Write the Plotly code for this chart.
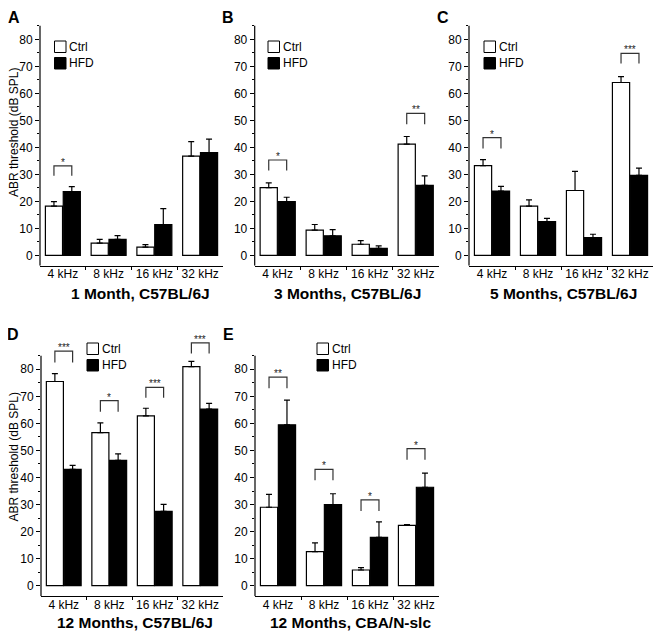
import plotly.graph_objects as go

# The page body keeps its default 8px margin, so the figure is drawn 8px smaller
# and all layout positions below (measured in window pixels) are shifted by 8px.
WIN_W, WIN_H = 662, 634
PAGE_MARGIN = 8
W, H = WIN_W - PAGE_MARGIN, WIN_H - PAGE_MARGIN

freqs = ["4 kHz", "8 kHz", "16 kHz", "32 kHz"]
groups = ["Ctrl", "HFD"]

# Panel A: 1 Month, C57BL/6J
a_ctrl = [18.2, 4.5, 3.0, 36.7]
a_ctrl_err = [1.7, 1.4, 0.95, 5.4]
a_hfd = [23.6, 5.9, 11.4, 38.0]
a_hfd_err = [1.8, 1.4, 5.9, 5.0]
a_sig = [(0, 33.1, 29.5, "*")]

# Panel B: 3 Months, C57BL/6J
b_ctrl = [25.1, 9.3, 4.1, 41.2]
b_ctrl_err = [1.7, 2.1, 1.3, 2.8]
b_hfd = [19.9, 7.2, 2.6, 25.9]
b_hfd_err = [1.6, 2.3, 0.9, 3.5]
b_sig = [(0, 35.3, 31.4, "*"), (3, 52.6, 48.5, "**")]

# Panel C: 5 Months, C57BL/6J
c_ctrl = [33.2, 18.2, 24.0, 64.0]
c_ctrl_err = [2.2, 2.3, 7.1, 2.2]
c_hfd = [23.8, 12.5, 6.6, 29.6]
c_hfd_err = [1.7, 1.2, 1.2, 2.7]
c_sig = [(0, 43.6, 39.6, "*"), (3, 74.8, 71.0, "***")]

# Panel D: 12 Months, C57BL/6J
d_ctrl = [75.5, 56.6, 62.8, 81.0]
d_ctrl_err = [2.9, 3.6, 2.8, 1.9]
d_hfd = [43.0, 46.3, 27.5, 65.3]
d_hfd_err = [1.5, 2.4, 2.6, 2.1]
d_sig = [(0, 86.7, 82.5, "***"), (1, 68.4, 64.3, "*"), (2, 73.3, 69.5, "***"), (3, 89.8, 85.8, "***")]

# Panel E: 12 Months, CBA/N-slc
e_ctrl = [29.0, 12.6, 5.8, 22.3]
e_ctrl_err = [4.8, 3.2, 0.9, 0.3]
e_hfd = [59.5, 30.0, 17.9, 36.4]
e_hfd_err = [9.1, 4.0, 5.7, 5.2]
e_sig = [(0, 77.1, 73.0, "**"), (1, 43.0, 39.0, "*"), (2, 31.7, 27.6, "*"), (3, 50.7, 46.6, "*")]

yticks = [0, 10, 20, 30, 40, 50, 60, 70, 80]
yminor = [5, 15, 25, 35, 45, 55, 65, 75, 85]
y_title = "ABR threshold (dB SPL)"

FONT = "Liberation Sans, Arial, Helvetica, sans-serif"
Y_MIN, Y_MAX, AXIS_TOP = -3.9, 91.0, 85.0
BARGAP, BARGROUPGAP = 0.22, 0.04
OFF = (1 - BARGAP) / 4


def px(x):
    return min(1.0, max(0.0, (x - PAGE_MARGIN) / W))


def py(y):
    return min(1.0, max(0.0, 1 - (y - PAGE_MARGIN) / H))


panels = [
    dict(letter="A", title="1 Month, C57BL/6J", ctrl=a_ctrl, ce=a_ctrl_err, hfd=a_hfd, he=a_hfd_err, sig=a_sig,
         x0=40, x1=223, zero=255.3, scale=2.70, letter_xy=(14, 17), title_xy=(140.5, 293.5),
         leg=(54.5, 41), ytitle=(14, 133)),
    dict(letter="B", title="3 Months, C57BL/6J", ctrl=b_ctrl, ce=b_ctrl_err, hfd=b_hfd, he=b_hfd_err, sig=b_sig,
         x0=254.7, x1=438.7, zero=255.3, scale=2.70, letter_xy=(228, 17), title_xy=(347, 293.5),
         leg=(268, 41), ytitle=None),
    dict(letter="C", title="5 Months, C57BL/6J", ctrl=c_ctrl, ce=c_ctrl_err, hfd=c_hfd, he=c_hfd_err, sig=c_sig,
         x0=469, x1=653, zero=255.3, scale=2.70, letter_xy=(443, 17), title_xy=(563, 293.5),
         leg=(484, 41), ytitle=None),
    dict(letter="D", title="12 Months, C57BL/6J", ctrl=d_ctrl, ce=d_ctrl_err, hfd=d_hfd, he=d_hfd_err, sig=d_sig,
         x0=41, x1=223, zero=585.7, scale=2.705, letter_xy=(13.5, 334), title_xy=(135, 622.5),
         leg=(87, 343), ytitle=(13.5, 457)),
    dict(letter="E", title="12 Months, CBA/N-slc", ctrl=e_ctrl, ce=e_ctrl_err, hfd=e_hfd, he=e_hfd_err, sig=e_sig,
         x0=255, x1=439, zero=585.7, scale=2.705, letter_xy=(228, 334), title_xy=(350, 622.5),
         leg=(317, 343), ytitle=None),
]

fig = go.Figure()
shapes = []
annotations = []
layout_axes = {}

for i, p in enumerate(panels):
    n = "" if i == 0 else str(i + 1)
    xa, ya = "x" + n, "y" + n
    err_style = dict(type="data", symmetric=False, color="black", thickness=1.2, width=3)
    fig.add_trace(go.Bar(
        x=[0, 1, 2, 3], y=p["ctrl"], name=groups[0], xaxis=xa, yaxis=ya, showlegend=False,
        marker=dict(color="white", line=dict(color="black", width=1.2)),
        error_y=dict(array=p["ce"], arrayminus=[0] * 4, **err_style)))
    fig.add_trace(go.Bar(
        x=[0, 1, 2, 3], y=p["hfd"], name=groups[1], xaxis=xa, yaxis=ya, showlegend=False,
        marker=dict(color="black", line=dict(color="black", width=1.2)),
        error_y=dict(array=p["he"], arrayminus=[0] * 4, **err_style)))

    bottom_px = p["zero"] - Y_MIN * p["scale"]
    top_px = p["zero"] - Y_MAX * p["scale"]
    layout_axes["xaxis" + n] = dict(
        domain=[px(p["x0"]), px(p["x1"])], anchor=ya, range=[-0.5, 3.5],
        tickvals=[0, 1, 2, 3], ticktext=freqs, ticks="", showgrid=False, zeroline=False,
        showline=True, linecolor="black", linewidth=1.2, ticklabelstandoff=-3,
        tickfont=dict(family=FONT, size=12, color="black"),
        minor=dict(tickvals=[0.5, 1.5, 2.5], ticks="outside", ticklen=3, tickcolor="black", tickwidth=1),
        fixedrange=True)
    layout_axes["yaxis" + n] = dict(
        domain=[py(bottom_px), py(top_px)], anchor=xa, range=[Y_MIN, Y_MAX],
        tickvals=yticks, ticks="outside", ticklen=4, tickcolor="black", tickwidth=1,
        minor=dict(tickvals=yminor, ticks="outside", ticklen=2, tickcolor="black", tickwidth=1),
        showgrid=False, zeroline=False, showline=False,
        tickfont=dict(family=FONT, size=12, color="black"), fixedrange=True)

    # y axis line (stops at 85, brackets may rise above it)
    shapes.append(dict(type="line", xref=xa + " domain", yref=ya, x0=0, x1=0, y0=Y_MIN, y1=AXIS_TOP,
                       line=dict(color="black", width=1.2)))

    # significance brackets
    for idx, top, bot, lab in p["sig"]:
        xl, xr = idx - OFF, idx + OFF
        shapes.append(dict(type="path", xref=xa, yref=ya,
                           path=f"M{xl},{bot} L{xl},{top} L{xr},{top} L{xr},{bot}",
                           line=dict(color="#333333", width=1.2)))
        annotations.append(dict(x=idx, y=top, xref=xa, yref=ya, text=lab, showarrow=False,
                                yanchor="bottom", yshift=-4,
                                font=dict(family=FONT, size=10, color="#222222")))

    # legend
    lx, ly = p["leg"]
    for k, (fill, lab) in enumerate([("white", groups[0]), ("black", groups[1])]):
        y0 = ly + k * 16.5
        shapes.append(dict(type="rect", xref="paper", yref="paper",
                           x0=px(lx), x1=px(lx + 11.5), y0=py(y0 + 11.5), y1=py(y0),
                           fillcolor=fill, line=dict(color="black", width=1)))
        annotations.append(dict(x=px(lx + 12.5), y=py(y0 + 5.8), xref="paper", yref="paper",
                                text=lab, showarrow=False, xanchor="left", yanchor="middle",
                                font=dict(family=FONT, size=12, color="black")))

    # panel letter
    annotations.append(dict(x=px(p["letter_xy"][0]), y=py(p["letter_xy"][1]), xref="paper", yref="paper",
                            text=f"<b>{p['letter']}</b>", showarrow=False, xanchor="center", yanchor="middle",
                            font=dict(family=FONT, size=16, color="black")))
    # panel title
    annotations.append(dict(x=px(p["title_xy"][0]), y=py(p["title_xy"][1]), xref="paper", yref="paper",
                            text=f"<b>{p['title']}</b>", showarrow=False, xanchor="center", yanchor="middle",
                            font=dict(family=FONT, size=15.5, color="black")))
    # y axis title
    if p["ytitle"]:
        annotations.append(dict(x=px(p["ytitle"][0]), y=py(p["ytitle"][1]), xref="paper", yref="paper",
                                text=y_title, showarrow=False, textangle=-90,
                                xanchor="center", yanchor="middle",
                                font=dict(family=FONT, size=12, color="black")))

fig.update_layout(
    width=W, height=H, autosize=False,
    margin=dict(l=0, r=0, t=0, b=0),
    paper_bgcolor="white", plot_bgcolor="white",
    barmode="group", bargap=BARGAP, bargroupgap=BARGROUPGAP,
    showlegend=False, shapes=shapes, annotations=annotations,
    font=dict(family=FONT, color="black"),
    **layout_axes)

fig.write_html("out.html")
